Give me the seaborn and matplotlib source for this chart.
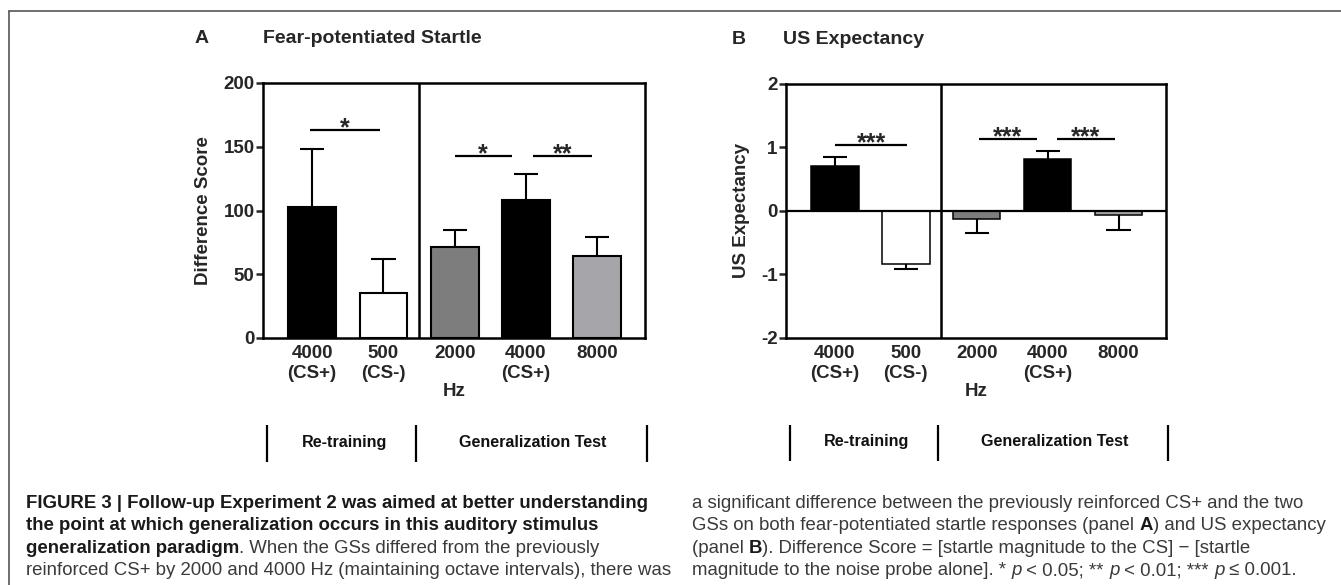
import numpy as np
import pandas as pd
import seaborn as sns
import matplotlib.pyplot as plt
import matplotlib.transforms as mtransforms
from matplotlib.lines import Line2D

# Data
conditions = ['4000 (CS+) retraining', '500 (CS-)', '2000', '4000 (CS+) test', '8000']
tick_labels = ['4000\n(CS+)', '500\n(CS-)', '2000', '4000\n(CS+)', '8000']
bar_colors = ['#000000', '#ffffff', '#7d7d7d', '#000000', '#a6a6aa']

startle_mean = [103, 35, 71, 108, 64]
startle_sem = [45, 27, 14, 21, 15]
expect_mean = [0.71, -0.83, -0.12, 0.82, -0.06]
expect_sem = [0.14, 0.09, 0.22, 0.13, 0.24]

# significance bars: (x start, x end, height, label)
startle_sig = [(-0.03, 0.95, 163, '*'), (2.0, 2.8, 143, '*'), (3.1, 3.93, 143, '**')]
expect_sig = [(0.0, 1.02, 1.04, '***'), (2.03, 2.85, 1.13, '***'), (3.13, 3.95, 1.13, '***')]

groups = ['Re-training', 'Generalization Test']

sns.set_style('white')
plt.rcParams['font.family'] = ['Liberation Sans', 'DejaVu Sans']
plt.rcParams['font.weight'] = 'bold'
plt.rcParams['axes.unicode_minus'] = False

fig = plt.figure(figsize=(13.41, 5.85), dpi=100)
W, H = 1341, 585
ax_a = fig.add_axes([263 / W, 1 - 338 / H, 382 / W, 255 / H])
ax_b = fig.add_axes([786 / W, 1 - 338 / H, 380 / W, 254 / H])


def draw_panel(ax, means, sems, ylim, yticks, ylabel, sig, letter, title, letter_x, title_x, bar_lw):
    df = pd.DataFrame({'condition': conditions, 'value': means})
    sns.barplot(data=df, x='condition', y='value', hue='condition', order=conditions,
                palette=bar_colors, legend=False, width=0.67, saturation=1,
                edgecolor='black', linewidth=bar_lw, ax=ax, zorder=3)
    vals = np.array(means)
    errs = np.array(sems)
    x = np.arange(len(vals))
    ends = np.where(vals >= 0, vals + errs, vals - errs)
    ax.vlines(x, vals, ends, color='black', lw=1.5, zorder=2)
    ax.hlines(ends, x - 0.17, x + 0.17, color='black', lw=1.5, zorder=2)

    ax.set_xlim(-0.69, 4.67)
    ax.set_ylim(*ylim)
    ax.set_yticks(yticks)
    ax.set_xticks(x)
    ax.set_xticklabels(tick_labels)
    ax.axvline(1.5, color='black', lw=1.8, zorder=4)
    if ylim[0] < 0:
        ax.axhline(0, color='black', lw=1.6, zorder=4)
    for s in ax.spines.values():
        s.set_visible(True)
        s.set_color('black')
        s.set_linewidth(1.8)
    ax.tick_params(axis='y', length=5, width=1.8, direction='out', labelsize=13.5, pad=1, left=True)
    ax.tick_params(axis='x', length=0, labelsize=13.5, pad=5)
    for lbl in ax.get_xticklabels() + ax.get_yticklabels():
        lbl.set_fontweight('bold')
    ax.set_xlabel('Hz', fontsize=13.5, fontweight='bold', labelpad=1)
    ax.set_ylabel(ylabel, fontsize=13.5, fontweight='bold', labelpad=8)

    for x0, x1, h, lab in sig:
        ax.plot([x0, x1], [h, h], color='black', lw=1.6, solid_capstyle='butt')
        ax.annotate(lab, xy=((x0 + x1) / 2, h), xytext=(0, -4), textcoords='offset points',
                    ha='center', va='baseline', fontsize=18, fontweight='bold')

    ax.text(letter_x, 1.176, letter, transform=ax.transAxes, fontsize=14,
            fontweight='bold', ha='left', va='center')
    ax.text(title_x, 1.176, title, transform=ax.transAxes,
            fontsize=14, fontweight='bold', ha='left', va='center')

    # group brackets under the axis
    trans = mtransforms.blended_transform_factory(ax.transData, ax.transAxes)
    for bx in [-0.63, 1.46, 4.7]:
        ax.plot([bx, bx], [-0.341, -0.486], transform=trans, color='black', lw=1.6,
                clip_on=False, solid_capstyle='butt')
    for gx, g in zip([0.45, 3.1], groups):
        ax.text(gx, -0.408, g, transform=trans, ha='center', va='center',
                fontsize=11.6, fontweight='bold', color='#111111')


draw_panel(ax_a, startle_mean, startle_sem, (0, 200), [0, 50, 100, 150, 200],
           'Difference Score', startle_sig, 'A', 'Fear-potentiated Startle', -0.178, 0.0, 1.5)
draw_panel(ax_b, expect_mean, expect_sem, (-2, 2), [-2, -1, 0, 1, 2],
           'US Expectancy', expect_sig, 'B', 'US Expectancy', -0.142, -0.008, 1.1)

# page frame
fig.add_artist(Line2D([9 / W, 1], [1 - 11 / H, 1 - 11 / H], transform=fig.transFigure,
                      color='#555555', lw=1.2))
fig.add_artist(Line2D([9 / W, 9 / W], [0, 1 - 11 / H], transform=fig.transFigure,
                      color='#555555', lw=1.2))

# caption
B_, N_, I_ = 'bold', 'normal', 'italic'
left_lines = [
    [('FIGURE 3 | Follow-up Experiment 2 was aimed at better understanding', B_)],
    [('the point at which generalization occurs in this auditory stimulus', B_)],
    [('generalization paradigm', B_), ('. When the GSs differed from the previously', N_)],
    [('reinforced CS+ by 2000 and 4000 Hz (maintaining octave intervals), there was', N_)],
]
right_lines = [
    [('a significant difference between the previously reinforced CS+ and the two', N_)],
    [('GSs on both fear-potentiated startle responses (panel ', N_), ('A', B_),
     (') and US expectancy', N_)],
    [('(panel ', N_), ('B', B_), ('). Difference Score = [startle magnitude to the CS] \u2212 [startle', N_)],
    [('magnitude to the noise probe alone]. * ', N_), ('p', I_), (' < 0.05; ** ', N_), ('p', I_),
     (' < 0.01; *** ', N_), ('p', I_), (' \u2264 0.001.', N_)],
]
line_bottoms = [512, 534, 557, 579]
cap_size = 13.4


def style(kind):
    if kind == B_:
        return dict(fontweight='bold', color='#1a1a1a')
    if kind == I_:
        return dict(fontweight='normal', fontstyle='italic', color='#3a3a3a')
    return dict(fontweight='normal', color='#3a3a3a')


for x0, lines in [(26, left_lines), (692, right_lines)]:
    for yb, pieces in zip(line_bottoms, lines):
        prev = None
        for txt, kind in pieces:
            if prev is None:
                prev = fig.text(x0 / W, 1 - yb / H, txt, ha='left', va='bottom',
                                fontsize=cap_size, **style(kind))
            else:
                prev = plt.annotate(txt, xy=(1, 0), xycoords=prev, ha='left', va='bottom',
                                    fontsize=cap_size, annotation_clip=False, **style(kind))

fig.savefig('out.png', dpi=100)
plt.close()
